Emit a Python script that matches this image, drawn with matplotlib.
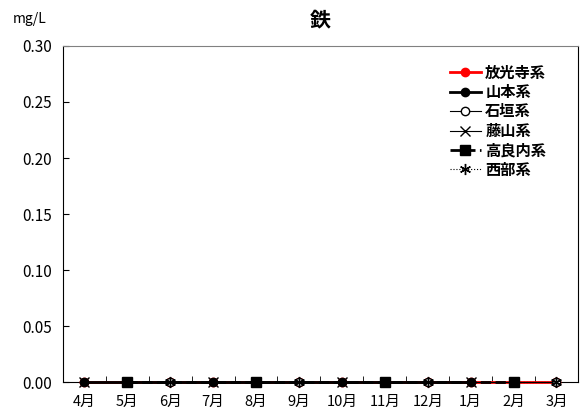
import numpy as np
import matplotlib.pyplot as plt

plt.rcParams['font.family'] = ['Noto Sans CJK JP', 'DejaVu Sans']

months = ['4月', '5月', '6月', '7月', '8月', '9月', '10月', '11月', '12月', '1月', '2月', '3月']
nan = np.nan
# 各系統の測定値 (mg/L)
houkouji = [0.0, 0.0, 0.0, 0.0, 0.0, 0.0, 0.0, 0.0, 0.0, 0.0, 0.0, 0.0]
yamamoto = [0.0, nan, nan, 0.0, nan, nan, 0.0, nan, nan, 0.0, nan, nan]
ishigaki = [nan, nan, 0.0, nan, nan, 0.0, nan, nan, 0.0, nan, nan, 0.0]
fujiyama = [0.0, nan, nan, 0.0, nan, nan, 0.0, nan, nan, 0.0, nan, nan]
kouranai = [nan, 0.0, nan, nan, 0.0, nan, nan, 0.0, nan, nan, 0.0, nan]
seibu = [nan, nan, 0.0, nan, nan, 0.0, nan, nan, 0.0, nan, nan, 0.0]

x = np.arange(len(months))

def connect(vals):
    v = np.array(vals, dtype=float)
    m = ~np.isnan(v)
    return x[m], v[m]

fig = plt.figure(figsize=(5.82, 4.18), dpi=100)
ax = fig.add_axes([0.108, 0.086, 0.885, 0.804])

xs, ys = connect(houkouji)
ax.plot(xs, ys, color='red', lw=2, marker='o', ms=6, label='放光寺系', zorder=3, clip_on=False)
xs, ys = connect(yamamoto)
ax.plot(xs, ys, color='black', lw=2, marker='o', ms=6, label='山本系', zorder=4, clip_on=False)
xs, ys = connect(ishigaki)
ax.plot(xs, ys, color='black', lw=0.8, marker='o', ms=6, mfc='white', label='石垣系', zorder=4, clip_on=False)
xs, ys = connect(fujiyama)
ax.plot(xs, ys, color='black', lw=0.8, marker='x', ms=7, label='藤山系', zorder=4, clip_on=False)
xs, ys = connect(kouranai)
ax.plot(xs, ys, color='black', lw=2, ls='--', marker='s', ms=6.5, label='高良内系', zorder=4, clip_on=False)
xs, ys = connect(seibu)
ax.plot(xs, ys, color='black', lw=0.8, ls=':', marker=(6, 2, 0), ms=8, label='西部系', zorder=4, clip_on=False)

ax.set_xlim(-0.5, len(months) - 0.5)
ax.set_ylim(0, 0.30)
ax.set_yticks(np.arange(0, 0.301, 0.05))
ax.set_yticklabels(['%.2f' % v for v in np.arange(0, 0.301, 0.05)], fontsize=11)
ax.set_xticks(x)
ax.set_xticklabels(months, fontsize=10.5)
ax.set_xticks(np.arange(-0.5, len(months), 1.0), minor=True)
ax.tick_params(axis='x', which='major', length=0, pad=9)
ax.tick_params(axis='x', which='minor', direction='in', length=4)
ax.tick_params(axis='y', direction='in', length=4, pad=8)
ax.spines['top'].set_color('gray')
for s in ['left', 'bottom', 'right']:
    ax.spines[s].set_color('black')

ax.set_title('鉄', fontsize=15, fontweight='bold', pad=14)
fig.text(0.022, 0.945, 'mg/L', fontsize=10)

leg = ax.legend(loc='upper right', bbox_to_anchor=(0.965, 0.985), frameon=False,
                prop={'size': 11, 'weight': 'bold'}, handlelength=2.0,
                handletextpad=0.3, labelspacing=0.22)

fig.savefig('out.png', dpi=100)
